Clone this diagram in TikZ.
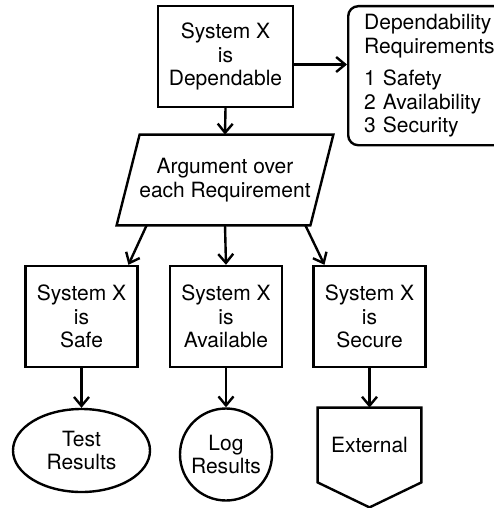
\documentclass[tikz,border=0pt]{standalone}
\usepackage{fontspec}
\setmainfont{TeX Gyre Heros}
\usetikzlibrary{arrows.meta,calc,shapes.geometric}

\begin{document}
\begin{tikzpicture}[x=0.5pt, y=-0.5pt, auto,
    font=\fontsize{10.5}{11.75}\selectfont, >={Straight Barb[length=4.5pt,width=7.5pt]},
    claim/.style ={rectangle, draw, very thick, align=center, minimum width=56pt, minimum height=50.5pt},
    context/.style ={rectangle, rounded corners=5pt, draw, very thick, align=left, text width=74pt,
                     inner xsep=8pt, minimum height=69.5pt, anchor=north west},
    strategy/.style ={rectangle, align=center, inner sep=0pt,
                      minimum width=96.5pt, minimum height=45pt},
    evidence/.style ={ellipse, draw, very thick, align=center, inner sep=0pt}]
   \useasboundingbox (0,0) rectangle (493,508);

   \node[claim, minimum width=67.5pt] (goal)  at (225.5,56.5)  {System X\\is\\Dependable};
   \node[context] (req)  at (347,5)  {Dependability\\Requirements\\[4.5pt]1 Safety\\2 Availability\\3 Security};
   \node[strategy] (arg)  at (225,180)  {Argument over\\each Requirement};
   \node[claim] (safe)  at (81.5,316.5)  {System X\\is\\Safe};
   \node[claim] (avail)  at (226,316.5)  {System X\\is\\Available};
   \node[claim] (secure)  at (369.5,316.5)  {System X\\is\\Secure};
   \node[evidence, minimum width=68.5pt, minimum height=41.5pt] (test)  at (81.5,450.5)  {Test\\Results};
   \node[evidence, circle, minimum size=46pt] (log)  at (226,454.5)  {Log\\Results};
   \node[minimum width=51.5pt, minimum height=37pt] (ext)  at (369.5,445)  {External};

   % slanted box and pointed box
   \draw[very thick] ($(arg.south west)+(-11.5,0)$) -- ($(arg.south east)+(-11.5,0)$)
      -- ($(arg.north east)+(11.5,0)$) -- ($(arg.north west)+(11.5,0)$) -- cycle;
   \draw[very thick] (ext.north west) -- (ext.north east) -- (ext.south east)
      -- ($(ext.south)+(0,25)$) -- (ext.south west) -- cycle;

   \draw[very thick,->] ([yshift=-4pt]goal.east) to  ([yshift=-4pt]goal.east -| req.west);
   \draw[very thick,->] (goal.south) to  (arg.north);
   \draw[very thick,->] ($(arg.south west)+(18.5,0)$) to ($(safe.north west)!0.91!(safe.north east)$);
   \draw[very thick,->] (arg.south) to (avail.north);
   \draw[very thick,->] ($(arg.south east)+(-16.5,0)$) to ($(secure.north west)!0.106!(secure.north east)$);
   \draw[very thick,->] (safe) to (test);
   \draw[very thick,->] (avail) to (log);
   \draw[very thick,->] (secure) to (ext);

 \end{tikzpicture}
\end{document}
